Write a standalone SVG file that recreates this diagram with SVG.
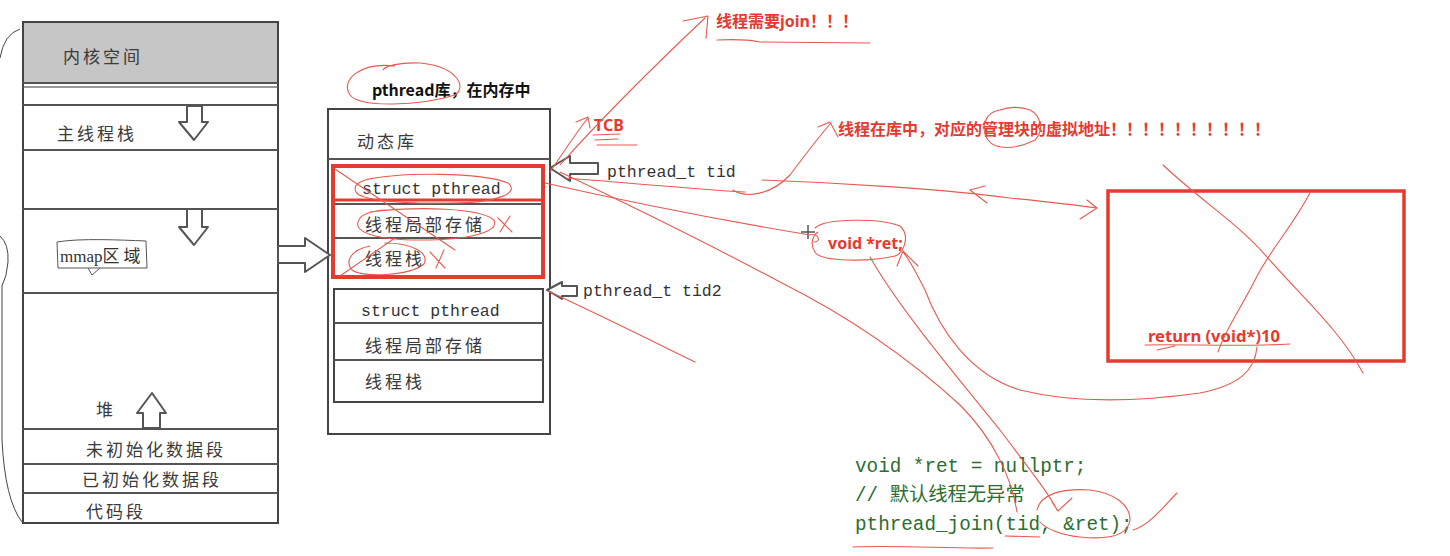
<svg xmlns="http://www.w3.org/2000/svg" width="1450" height="556" viewBox="0 0 1450 556">
<defs>
<style>
.frame{fill:#fff;stroke:#444;stroke-width:2}
.sep{stroke:#555;stroke-width:2}
.hollow{fill:#fff;stroke:#555;stroke-width:2;stroke-linejoin:round}
.cn{font-family:"Noto Sans CJK SC","Noto Sans",sans-serif;font-size:17px;fill:#3a3a3a;letter-spacing:3px}
.mono{font-family:"Liberation Mono","DejaVu Sans Mono",monospace;font-size:16.5px;fill:#333}
.red{font-family:"Noto Sans","Noto Sans CJK SC",sans-serif;font-weight:bold;font-size:16px;fill:#e53a30}
.code{font-family:"Liberation Mono","Noto Sans CJK SC",monospace;font-size:19.3px;fill:#2c6e2f}
.ink{fill:none;stroke:#e85a50;stroke-width:1.1;stroke-linecap:round;stroke-linejoin:round}
.redbox{fill:none;stroke:#e53a30}
</style>
</defs>
<rect width="1450" height="556" fill="#fff"/>

<g id="process-memory">
  <rect class="frame" x="23" y="22" width="255" height="501"/>
  <rect x="24" y="23" width="253" height="60" fill="#c6c6c6"/>
  <line class="sep" x1="23" y1="83" x2="278" y2="83"/>
  <line class="sep" x1="23" y1="87" x2="278" y2="87" stroke-opacity="0.6"/>
  <line class="sep" x1="23" y1="105" x2="278" y2="105"/>
  <line class="sep" x1="23" y1="150" x2="278" y2="150"/>
  <line class="sep" x1="23" y1="209" x2="278" y2="209"/>
  <line class="sep" x1="23" y1="293" x2="278" y2="293"/>
  <line class="sep" x1="23" y1="429" x2="278" y2="429"/>
  <line class="sep" x1="23" y1="464" x2="278" y2="464"/>
  <line class="sep" x1="23" y1="493" x2="278" y2="493"/>
  <text class="cn" x="63" y="63">内核空间</text>
  <text class="cn" x="57" y="140">主线程栈</text>
  <text x="60" y="262" font-family="Liberation Serif,'Noto Sans CJK SC',serif" font-size="17" fill="#333">mmap<tspan font-family="'Noto Sans CJK SC',sans-serif" font-size="17" letter-spacing="4">区域</tspan></text>
  <path d="M57,242 C80,238 120,240 146,241 L147,268 L58,268 Z" fill="none" stroke="#555" stroke-width="1"/>
  <path d="M88,268 L92,275 L100,268" fill="none" stroke="#555" stroke-width="1"/>
  <text class="cn" x="96" y="416" font-size="15">堆</text>
  <text class="cn" x="86" y="456">未初始化数据段</text>
  <text class="cn" x="82" y="486">已初始化数据段</text>
  <text class="cn" x="86" y="518">代码段</text>
  <path class="hollow" d="M187,106 L202,106 L202,122 L208,122 L194,140 L179,122 L187,122 Z"/>
  <path class="hollow" d="M187,209 L202,209 L202,227 L208,227 L194,245 L179,227 L187,227 Z"/>
  <path class="hollow" d="M143,428 L143,413 L137,413 L152,393 L166,413 L160,413 L160,428 Z"/>
  <path d="M20,29 Q4,34 0,58" fill="none" stroke="#444" stroke-width="1"/>
  <path d="M0,236 Q9,244 8,262 Q7,276 2,286 L2,440 Q5,500 22,522" fill="none" stroke="#444" stroke-width="1"/>
</g>

<g id="pthread-library">
  <text x="372" y="96" font-family="'Noto Sans CJK SC',sans-serif" font-weight="bold" font-size="16" fill="#111">pthread库，在内存中</text>
  <rect class="frame" x="328" y="109" width="222" height="325"/>
  <line class="sep" x1="328" y1="159" x2="550" y2="159"/>
  <text class="cn" x="357" y="148">动态库</text>
</g>

<g id="tcb-1">
  <line class="sep" x1="333" y1="204" x2="543" y2="204"/>
  <line class="sep" x1="333" y1="238" x2="543" y2="238"/>
  <rect class="redbox" x="333" y="166" width="210" height="111" stroke-width="4"/>
  <line x1="333" y1="200" x2="543" y2="200" stroke="#e53a30" stroke-width="3"/>
  <text class="mono" x="362" y="194">struct pthread</text>
  <text class="cn" x="365" y="231">线程局部存储</text>
  <text class="cn" x="365" y="265">线程栈</text>
</g>

<g id="tcb-2">
  <rect class="frame" x="334" y="289" width="209" height="113"/>
  <line class="sep" x1="334" y1="323" x2="543" y2="323"/>
  <line class="sep" x1="334" y1="360" x2="543" y2="360"/>
  <text class="mono" x="361" y="316">struct pthread</text>
  <text class="cn" x="365" y="352">线程局部存储</text>
  <text class="cn" x="365" y="388">线程栈</text>
</g>

<g id="tid-labels">
  <text class="mono" x="607" y="177" font-size="17">pthread_t tid</text>
  <text class="mono" x="583" y="296" font-size="17">pthread_t tid2</text>
</g>

<g id="notes">
  <text class="red" x="716" y="27">线程需要join！！！</text>
  <text class="red" x="594" y="131">TCB</text>
  <text class="red" x="838" y="135" textLength="432" lengthAdjust="spacingAndGlyphs">线程在库中，对应的管理块的虚拟地址！！！！！！！！！！</text>
  <text class="red" x="828" y="249">void *ret;</text>
</g>

<g id="thread-function">
  <rect class="redbox" x="1108" y="191" width="296" height="170" stroke-width="3.5"/>
  <text class="red" x="1148" y="342" textLength="132" lengthAdjust="spacingAndGlyphs">return (void*)10</text>
</g>

<g id="join-code">
  <text class="code" x="855" y="472">void *ret = nullptr;</text>
  <text class="code" x="855" y="501" fill="#5b8c5b">// 默认线程无异常</text>
  <text class="code" x="855" y="530">pthread_join(tid, &amp;ret);</text>
</g>

<g id="connectors">
  <path class="hollow" d="M278,246 L305,246 L305,238 L330,255 L305,272 L305,263 L278,263 Z"/>
  <path class="hollow" stroke-width="2.5" d="M550,168 L570,156 L570,163 L598,163 L598,174 L570,174 L570,181 Z"/>
  <path class="hollow" stroke-width="2.5" d="M547,290 L562,282 L562,286 L577,286 L577,296 L562,296 L562,299 Z"/>
  <path d="M801,232 L815,232 M808,225 L808,239" stroke="#555" stroke-width="1.5" fill="none"/>

  <path class="ink" d="M395,66 C360,62 340,80 350,95 C360,108 420,106 455,95 C468,86 455,66 420,63 C400,62 385,66 383,70"/>
  <path class="ink" d="M365,180 C400,172 480,172 508,183 C520,192 500,203 450,203 C400,204 360,200 356,192 C352,184 362,180 375,178"/>
  <path class="ink" d="M370,212 C420,206 480,208 494,220 C500,232 470,240 420,240 C375,240 355,232 358,222 C360,214 370,211 385,210"/>
  <path class="ink" d="M370,246 C350,250 345,262 352,270 C362,278 410,276 424,264 C430,252 410,243 385,243"/>
  <path class="ink" d="M335,169 L455,250 M340,276 L395,238 M498,218 L512,232 M500,232 L510,216 M430,252 L445,268 M436,268 L444,250"/>

  <path class="ink" d="M560,165 C600,120 650,70 705,18 M683,21 L708,16 L706,38"/>
  <path class="ink" d="M550,172 C565,150 578,130 588,118 M576,122 L588,117 L590,128"/>
  <path class="ink" d="M593,135 L620,134 M595,140 L618,139 M597,145 L637,145"/>
  <path class="ink" d="M565,178 C620,182 680,188 745,192"/>
  <path class="ink" d="M733,190 C745,198 770,196 790,175 C805,155 818,138 830,124 M818,127 L830,122 L838,137"/>
  <path class="ink" d="M762,180 C850,183 950,190 1010,198 C1040,201 1070,204 1097,208 M1087,200 L1097,208 L1080,219 M985,186 L970,190 L987,203"/>
  <path class="ink" d="M545,183 C620,200 720,220 810,235 C818,232 822,242 814,242"/>
  <path class="ink" d="M560,172 C640,210 720,250 780,282 C840,312 900,350 960,405 C995,440 1012,480 1017,512"/>
  <path class="ink" d="M548,291 C600,315 650,340 695,362"/>
  <path class="ink" d="M815,228 C825,218 880,218 900,226 C910,235 905,252 895,256 C870,262 820,262 815,252 C810,245 812,236 818,232"/>
  <path class="ink" d="M870,257 C900,310 960,380 1000,430 C1030,470 1050,495 1057,510 M1052,502 L1058,511 L1072,498"/>
  <path class="ink" d="M1257,347 C1255,370 1240,385 1200,393 C1150,400 1080,405 1020,390 C970,375 940,330 925,290 C915,270 908,258 903,252 M897,266 L903,251 L918,266"/>
  <path class="ink" d="M1037,510 C1040,495 1060,488 1090,490 C1115,493 1130,505 1130,520 C1128,535 1110,540 1080,537 C1060,535 1045,528 1040,522 M1133,530 C1150,525 1165,505 1177,493"/>
  <path class="ink" d="M853,547 C900,545 950,549 993,548 M1005,536 L1040,537"/>
  <path class="ink" d="M1163,165 C1200,200 1240,225 1267,257 C1300,295 1340,330 1363,373 M1310,193 C1290,230 1270,250 1255,280 C1240,310 1225,330 1218,352"/>
  <path class="ink" d="M1145,345 C1190,344 1240,347 1290,344 M1157,350 L1175,346"/>
  <path class="ink" d="M717,40 C735,39 750,40 760,42 L870,43"/>
  <path class="ink" d="M1000,110 C985,112 980,128 988,140 C995,150 1015,150 1035,140 C1045,130 1040,115 1030,110 C1020,106 1008,107 1000,110"/>
</g>
</svg>
